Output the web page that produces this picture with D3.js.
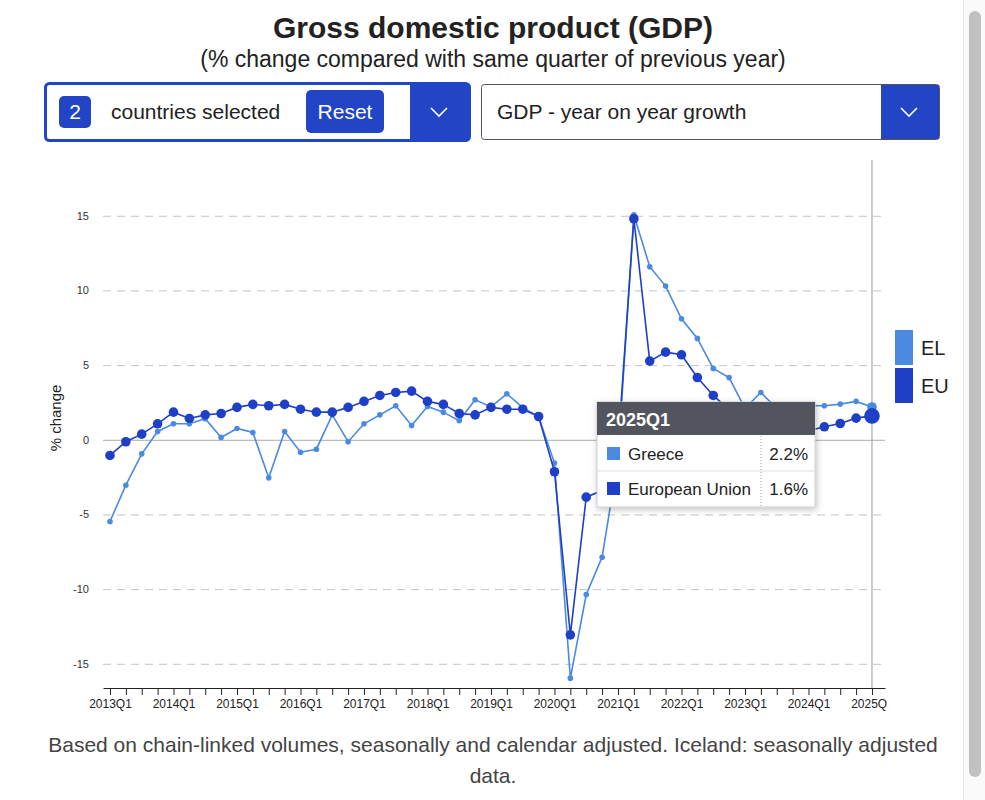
<!DOCTYPE html>
<html>
<head>
<meta charset="utf-8">
<script src="https://cdn.jsdelivr.net/npm/d3@7"></script>
<style>
  body { margin: 0; background: #fff; }
  svg { display: block; font-family: "Liberation Sans", Arial, Helvetica, sans-serif; }
</style>
</head>
<body>
<svg id="chart" width="985" height="800"></svg>
<script>
// quarters 2013Q1 .. 2025Q1
const years = [2013, 2014, 2015, 2016, 2017, 2018, 2019, 2020, 2021, 2022, 2023, 2024, 2025];
const quarters = [];
years.forEach(y => [1, 2, 3, 4].forEach(q => { if (y < 2025 || q === 1) quarters.push(y + 'Q' + q); }));

// % change vs same quarter of previous year
const greece = [
  -5.47, -3.04, -0.94, 0.56, 1.07, 1.07, 1.41, 0.16, 0.76, 0.49, -2.55, 0.56,
  -0.83, -0.63, 1.67, -0.13, 1.07, 1.67, 2.28, 0.96, 2.23, 1.85, 1.27, 2.68,
  2.2, 3.08, 2.15, 1.56, -1.56, -15.96, -10.36, -7.86, -1.3, 15.07, 11.59, 10.29,
  8.1, 6.79, 4.78, 4.17, 2.1, 3.17, 2.1, 1.6, 2.3, 2.28, 2.39, 2.57, 2.2
];
const eu = [
  -1.05, -0.13, 0.38, 1.07, 1.85, 1.43, 1.67, 1.76, 2.17, 2.37, 2.28, 2.37,
  2.05, 1.85, 1.85, 2.17, 2.57, 2.97, 3.17, 3.26, 2.57, 2.37, 1.76, 1.67,
  2.17, 2.05, 2.05, 1.56, -2.14, -13.06, -3.84, -3.4, -0.5, 14.8, 5.27, 5.87,
  5.69, 4.17, 2.97, 2.0, 1.3, 0.6, 0.3, 0.4, 0.6, 0.87, 1.09, 1.45, 1.6
];
const yTicks = [-15, -10, -5, 0, 5, 10, 15];

const series = [
  { code: 'EL', name: 'Greece', values: greece, color: '#4a8ae0', r: 2.8, hoverR: 4.8 },
  { code: 'EU', name: 'European Union', values: eu, color: '#1f40c6', r: 4.8, hoverR: 7.8 }
];
const hoverIndex = quarters.length - 1;

const svg = d3.select('#chart');
const blue = '#2145c5';
const textColor = '#222';

const x = d3.scaleLinear().domain([-0.44, 48.82]).range([103, 885]);
const y = d3.scaleLinear().domain([-16.62, 18.4]).range([688, 165]);

// title
svg.append('text').attr('x', 493).attr('y', 38).attr('text-anchor', 'middle')
  .attr('font-size', 30).attr('font-weight', 'bold').attr('fill', textColor)
  .text('Gross domestic product (GDP)');
svg.append('text').attr('x', 493).attr('y', 67).attr('text-anchor', 'middle')
  .attr('font-size', 23).attr('fill', textColor)
  .text('(% change compared with same quarter of previous year)');

// controls
function chevron(g, cx, cy) {
  g.append('path')
    .attr('d', `M${cx - 8},${cy - 4}L${cx},${cy + 4}L${cx + 8},${cy - 4}`)
    .attr('fill', 'none').attr('stroke', '#fff').attr('stroke-width', 1.6);
}
const ctl = svg.append('g');
ctl.append('rect').attr('x', 45.5).attr('y', 83.5).attr('width', 424).attr('height', 57)
  .attr('rx', 4).attr('fill', '#fff').attr('stroke', blue).attr('stroke-width', 3);
ctl.append('rect').attr('x', 410).attr('y', 85).attr('width', 58).attr('height', 54).attr('fill', blue);
chevron(ctl, 439, 112);
ctl.append('rect').attr('x', 59).attr('y', 96).attr('width', 32).attr('height', 32)
  .attr('rx', 5).attr('fill', blue);
ctl.append('text').attr('x', 75).attr('y', 119).attr('text-anchor', 'middle')
  .attr('font-size', 21).attr('fill', '#fff').text('2');
ctl.append('text').attr('x', 111).attr('y', 119).attr('font-size', 21).attr('fill', textColor)
  .text('countries selected');
ctl.append('rect').attr('x', 306).attr('y', 90).attr('width', 78).attr('height', 43)
  .attr('rx', 5).attr('fill', blue);
ctl.append('text').attr('x', 345).attr('y', 119).attr('text-anchor', 'middle')
  .attr('font-size', 21).attr('fill', '#fff').text('Reset');

ctl.append('rect').attr('x', 481.5).attr('y', 84.5).attr('width', 458).attr('height', 55)
  .attr('rx', 3).attr('fill', '#fff').attr('stroke', '#555').attr('stroke-width', 1);
ctl.append('rect').attr('x', 881).attr('y', 85).attr('width', 58).attr('height', 54).attr('fill', blue);
chevron(ctl, 909, 112);
ctl.append('text').attr('x', 497).attr('y', 119).attr('font-size', 21).attr('fill', textColor)
  .text('GDP - year on year growth');

// y grid + labels
const yAxis = d3.axisLeft(y).tickValues(yTicks).tickSize(-(885 - 103)).tickPadding(14)
  .tickFormat(d => d);
const yG = svg.append('g').attr('transform', 'translate(103,0)').call(yAxis);
yG.select('.domain').remove();
yG.selectAll('.tick line')
  .attr('stroke', d => d === 0 ? '#aaa' : '#c4c4c4')
  .attr('stroke-dasharray', d => d === 0 ? null : '8,6');
yG.selectAll('.tick text').attr('font-size', 11).attr('fill', '#333').attr('font-family', null);

svg.append('text').attr('transform', 'translate(61,418) rotate(-90)')
  .attr('text-anchor', 'middle').attr('font-size', 15).attr('fill', textColor)
  .text('% change');

// crosshair
svg.append('line').attr('x1', x(hoverIndex)).attr('x2', x(hoverIndex))
  .attr('y1', 160).attr('y2', 688).attr('stroke', '#999').attr('stroke-width', 1);

// x axis (labels clipped at the right edge of the plot)
svg.append('clipPath').attr('id', 'xclip').append('rect')
  .attr('x', 0).attr('y', -5).attr('width', 887).attr('height', 40);
const xAxis = d3.axisBottom(x).tickValues(d3.range(quarters.length)).tickSize(7).tickSizeOuter(0)
  .tickPadding(4).tickFormat(i => i % 4 === 0 ? quarters[i] : '');
const xG = svg.append('g').attr('transform', 'translate(0,688)').attr('clip-path', 'url(#xclip)').call(xAxis);
xG.select('.domain').attr('stroke', '#222');
xG.selectAll('.tick line').attr('stroke', '#222');
xG.selectAll('.tick text').attr('font-size', 12).attr('fill', '#222').attr('font-family', null);

// lines + points
const line = d3.line().x((d, i) => x(i)).y(d => y(d));
series.forEach(s => {
  const g = svg.append('g');
  g.append('path').datum(s.values).attr('d', line)
    .attr('fill', 'none').attr('stroke', s.color).attr('stroke-width', 1.6);
  g.selectAll('circle').data(s.values).enter().append('circle')
    .attr('cx', (d, i) => x(i)).attr('cy', d => y(d))
    .attr('r', (d, i) => i === hoverIndex ? s.hoverR : s.r)
    .attr('fill', s.color);
});

// legend
series.forEach((s, k) => {
  svg.append('rect').attr('x', 895).attr('y', 330 + k * 38).attr('width', 18).attr('height', 35)
    .attr('fill', s.color);
  svg.append('text').attr('x', 921).attr('y', 355 + k * 38).attr('font-size', 20)
    .attr('fill', textColor).text(s.code);
});

// tooltip
const defs = svg.append('defs');
const f = defs.append('filter').attr('id', 'shadow').attr('x', '-10%').attr('y', '-10%')
  .attr('width', '130%').attr('height', '140%');
f.append('feDropShadow').attr('dx', 1).attr('dy', 2).attr('stdDeviation', 3)
  .attr('flood-color', '#000').attr('flood-opacity', 0.25);

const tip = svg.append('g').attr('transform', 'translate(597,402)');
tip.append('rect').attr('width', 218).attr('height', 105).attr('fill', '#fff')
  .attr('stroke', '#ccc').attr('filter', 'url(#shadow)');
tip.append('rect').attr('width', 218).attr('height', 33).attr('fill', '#53555e');
tip.append('text').attr('x', 9).attr('y', 24).attr('font-size', 18).attr('font-weight', 'bold')
  .attr('fill', '#fff').text(quarters[hoverIndex]);
tip.append('line').attr('x1', 0).attr('x2', 218).attr('y1', 69).attr('y2', 69).attr('stroke', '#ddd');
tip.append('line').attr('x1', 164).attr('x2', 164).attr('y1', 34).attr('y2', 105)
  .attr('stroke', '#999').attr('stroke-dasharray', '1,2');
series.forEach((s, k) => {
  const yy = 58 + k * 35;
  tip.append('rect').attr('x', 10).attr('y', yy - 13).attr('width', 13).attr('height', 13).attr('fill', s.color);
  tip.append('text').attr('x', 31).attr('y', yy).attr('font-size', 17).attr('fill', textColor).text(s.name);
  tip.append('text').attr('x', 211).attr('y', yy).attr('text-anchor', 'end').attr('font-size', 17)
    .attr('fill', textColor).text(s.values[hoverIndex].toFixed(1) + '%');
});

// footnote
svg.append('text').attr('x', 493).attr('y', 752).attr('text-anchor', 'middle')
  .attr('font-size', 21).attr('fill', '#444')
  .text('Based on chain-linked volumes, seasonally and calendar adjusted. Iceland: seasonally adjusted');
svg.append('text').attr('x', 493).attr('y', 783).attr('text-anchor', 'middle')
  .attr('font-size', 21).attr('fill', '#444').text('data.');

// scrollbar
svg.append('rect').attr('x', 963).attr('y', 0).attr('width', 22).attr('height', 800).attr('fill', '#fafafa');
svg.append('line').attr('x1', 963.5).attr('x2', 963.5).attr('y1', 0).attr('y2', 800).attr('stroke', '#e6e6e6');
svg.append('rect').attr('x', 969).attr('y', 11).attr('width', 12).attr('height', 766).attr('rx', 6)
  .attr('fill', '#c1c1c1');
</script>
</body>
</html>
